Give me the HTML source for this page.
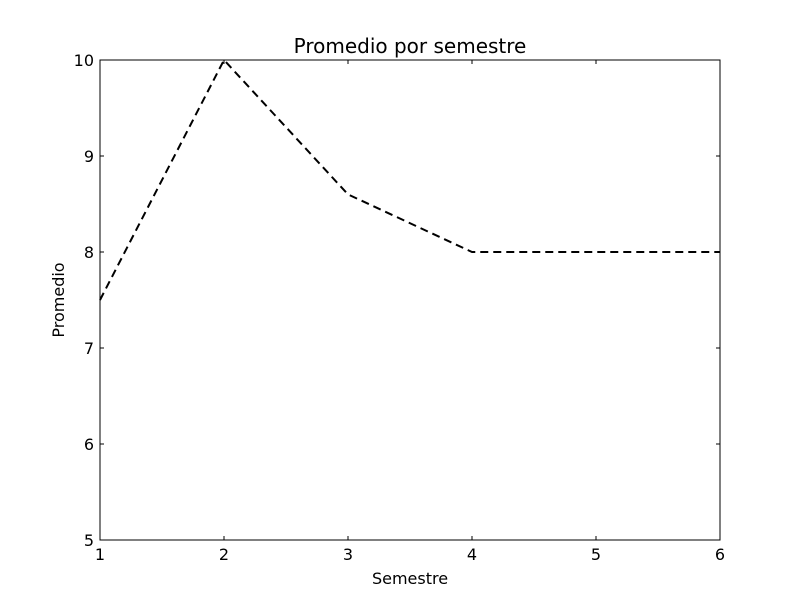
<!DOCTYPE html>
<html><head><meta charset="utf-8"><style>
html,body{margin:0;padding:0;background:#fff;}
svg text{font-family:"DejaVu Sans","Liberation Sans",sans-serif;font-size:16px;fill:#000;}
</style></head><body>
<svg id="chart" width="800" height="600" xmlns="http://www.w3.org/2000/svg">
<rect x="0" y="0" width="800" height="600" fill="#fff"/>
<g id="ticks"></g>
<polyline id="series" fill="none" stroke="#000" stroke-width="2" stroke-dasharray="8,5"/>
<rect x="100" y="60" width="620" height="480" fill="none" stroke="#000" stroke-width="1"/>
<text x="410" y="53" text-anchor="middle" style="font-size:20px">Promedio por semestre</text>
<text x="410" y="584" text-anchor="middle">Semestre</text>
<text x="64" y="300" text-anchor="middle" transform="rotate(-90 64 300)">Promedio</text>
</svg>
<script>
const semesters = [1, 2, 3, 4, 5, 6];
const promedios = [7.5, 10, 8.6, 8.0, 8.0, 8.0];
const xTicks = [1, 2, 3, 4, 5, 6];
const yTicks = [5, 6, 7, 8, 9, 10];
const X0=100, X1=720, Y0=540, Y1=60;
const xs = v => X0 + (v-1)/(6-1)*(X1-X0);
const ys = v => Y0 - (v-5)/(10-5)*(Y0-Y1);
const NS="http://www.w3.org/2000/svg";
const g=document.getElementById('ticks');
function line(x1,y1,x2,y2,name){const l=document.createElementNS(NS,'line');l.setAttribute('x1',x1);l.setAttribute('y1',y1);l.setAttribute('x2',x2);l.setAttribute('y2',y2);l.setAttribute('stroke','#000');


g.appendChild(l);}
function text(x,y,s,anchor,name){const t=document.createElementNS(NS,'text');t.setAttribute('x',x);t.setAttribute('y',y);t.setAttribute('text-anchor',anchor);t.textContent=s;


g.appendChild(t);}
xTicks.forEach(v=>{const x=xs(v);line(x,Y0,x,Y0-4,'x-tick');line(x,Y1,x,Y1+4,'x-tick-top');text(x,Y0+20,String(v),'middle','x-tick-label');});
yTicks.forEach(v=>{const y=ys(v);line(X0,y,X0+4,y,'y-tick');line(X1,y,X1-4,y,'y-tick-right');text(X0-6,y+6,String(v),'end','y-tick-label');});
document.getElementById('series').setAttribute('points',semesters.map((s,i)=>xs(s)+','+ys(promedios[i])).join(' '));
</script>
</body></html>
